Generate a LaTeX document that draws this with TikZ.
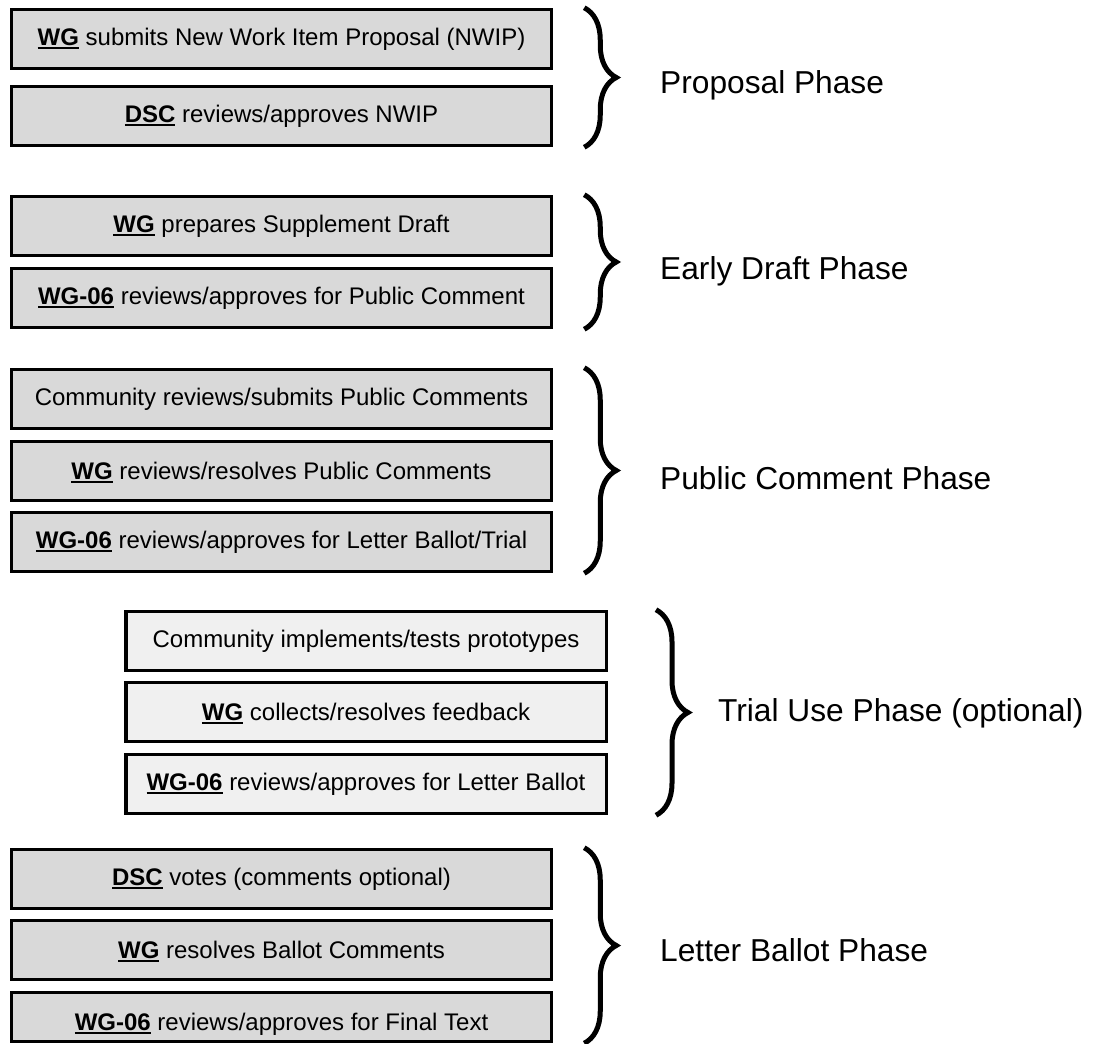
\documentclass[tikz,border=0pt]{standalone}
\usepackage{fontspec}
\setmainfont{Liberation Sans}
\usetikzlibrary{decorations.pathreplacing}

\newcommand{\grp}[1]{{\bfseries\setbox0\hbox{#1}\rlap{\smash{\rule[-3.5pt]{\wd0}{2.2pt}}}\box0}}

\tikzset{
    stepbox/.style={draw, line width=3.5pt, fill=black!15, minimum width=540pt,
        minimum height=59pt, inner sep=0pt, font=\fontsize{24}{28}\selectfont},
    trialbox/.style={stepbox, fill=black!6, minimum width=480.5pt},
    lastbox/.style={stepbox, minimum height=49pt, text height=32pt, text depth=5pt},
    phase/.style={decorate, decoration={brace, amplitude=32pt}, line width=5pt},
    phaselabel/.style={anchor=base west, inner sep=0pt, font=\fontsize{31.7}{36}\selectfont}
}

\begin{document}
\begin{tikzpicture}[x=1pt,y=-1pt]
                \useasboundingbox (0,0) rectangle (1112,1044);

                % proposal
                \node[stepbox] (nwip)   at (281.5,39)  {\grp{WG} submits New Work Item Proposal (NWIP)};
                \node[stepbox] (nwipok) at (281.5,116) {\grp{DSC} reviews/approves NWIP};

                % early draft
                \node[stepbox] (draft)   at (281.5,226) {\grp{WG} prepares Supplement Draft};
                \node[stepbox] (draftok) at (281.5,298) {\grp{WG-06} reviews/approves for Public Comment};

                % public comment
                \node[stepbox] (pubsub) at (281.5,399) {Community reviews/submits Public Comments};
                \node[stepbox] (pubres) at (281.5,471) {\grp{WG} reviews/resolves Public Comments};
                \node[stepbox] (pubok)  at (281.5,542) {\grp{WG-06} reviews/approves for Letter Ballot/Trial};

                % trial use
                \node[trialbox] (trtest) at (366,641) {Community implements/tests prototypes};
                \node[trialbox] (trfeed) at (366,712) {\grp{WG} collects/resolves feedback};
                \node[trialbox] (trok)   at (366,784) {\grp{WG-06} reviews/approves for Letter Ballot};

                % letter ballot
                \node[stepbox] (lbvote) at (281.5,879)  {\grp{DSC} votes (comments optional)};
                \node[stepbox] (lbres)  at (281.5,950)  {\grp{WG} resolves Ballot Comments};
                \node[lastbox] (lbok)   at (281.5,1017) {\grp{WG-06} reviews/approves for Final Text};

                \draw[phase] ([xshift=31pt]nwip.north east) -- ([xshift=31pt]nwipok.south east);
                \draw[phase] ([xshift=31pt]draft.north east) -- ([xshift=31pt]draftok.south east);
                \draw[phase] ([xshift=31pt]pubsub.north east) -- ([xshift=31pt]pubok.south east);
                \draw[phase] ([xshift=48pt]trtest.north east) -- ([xshift=48pt]trok.south east);
                \draw[phase] ([xshift=31pt]lbvote.north east) -- ([xshift=31pt]lbok.south east);

                \node[phaselabel] (lprop)  at (660,93)  {Proposal Phase};
                \node[phaselabel] (ldraft) at (660,279) {Early Draft Phase};
                \node[phaselabel] (lpub)   at (660,489) {Public Comment Phase};
                \node[phaselabel] (ltrial) at (718,721) {Trial Use Phase (optional)};
                \node[phaselabel] (lballot) at (660,961) {Letter Ballot Phase};
\end{tikzpicture}
\end{document}
